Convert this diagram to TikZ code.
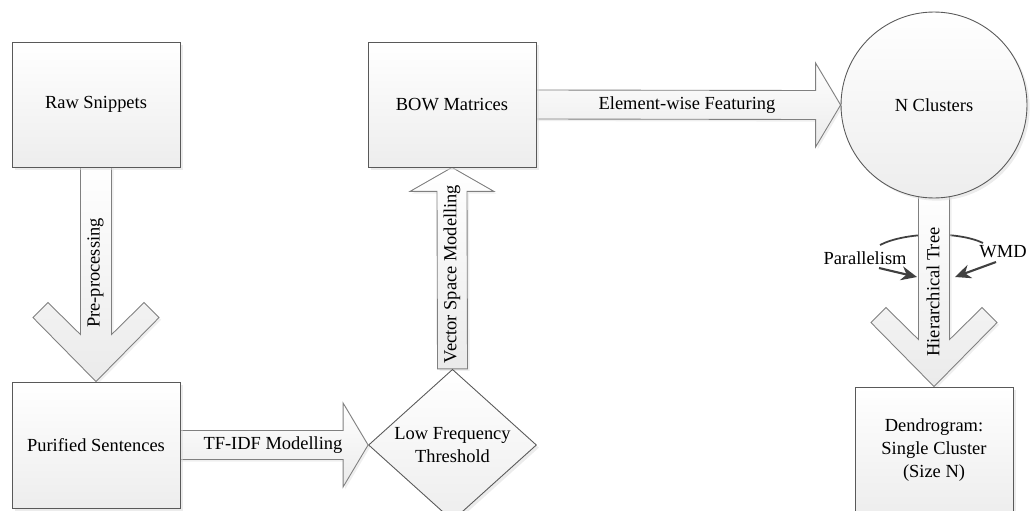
\documentclass[tikz,border=0pt]{standalone}
\usepackage{fontspec}
\setmainfont{Liberation Serif}
\usetikzlibrary{shapes.geometric,shadows,calc,arrows.meta}
\definecolor{edgegray}{RGB}{89,89,89}
\definecolor{arrowgray}{RGB}{128,128,128}
\definecolor{markgray}{RGB}{64,64,64}
\pgfdeclarelayer{bg}
\pgfsetlayers{bg,main}

\begin{document}
\begin{tikzpicture}[x=0.02cm,y=-0.02cm,
    font=\fontsize{10.5}{13}\selectfont,
    block/.style={draw=edgegray, line width=0.5pt, top color=white, bottom color=black!7,
        drop shadow={shadow xshift=1.5pt, shadow yshift=-1.5pt, fill=black!15},
        align=center, inner sep=2pt},
    boxnode/.style={block, rectangle, minimum width=3.36cm, minimum height=2.5cm},
    barrow/.style={draw=arrowgray, line width=0.5pt, top color=white, bottom color=black!8,
        drop shadow={shadow xshift=1.2pt, shadow yshift=-1.2pt, fill=black!12}, line join=miter},
    sidearrow/.style={markgray, line width=1.2pt, -{Stealth[length=9pt,width=8pt]}}]
    \useasboundingbox (0,0) rectangle (1030,510);

    % boxes
    \node[boxnode] (raw) at (96,104.5) {Raw Snippets};
    \node[boxnode] (bow) at (452,104.5) {BOW Matrices};
    \node[boxnode, minimum height=2.52cm] (pure) at (96,445) {Purified Sentences};
    \node[block, diamond, minimum width=3.36cm, minimum height=2.48cm, inner sep=0pt] (low) at (452.5,445) {Low Frequency\\Threshold};
    \node[block, circle, minimum size=3.72cm] (clus) at (934,105) {N Clusters};
    \node[boxnode, minimum width=3.16cm, minimum height=2.52cm] (dend) at (934,450) {Dendrogram:\\Single Cluster\\(Size N)};

    % block arrows
    \begin{pgfonlayer}{bg}
        \draw[barrow] ($(raw.south)+(-15.5,-4)$) -- ($(pure.north)+(-15.5,-47)$) -- ++(-32.5,-32) -- ++(-15,15)
            -- (pure.north) -- ++(63,-64) -- ++(-15,-15) -- ++(-32.5,32) -- ($(raw.south)+(15.5,-4)$) -- cycle;
        \draw[barrow] ($(pure.east)+(-2,-14.5)$) -- ($(low.west)+(-25,-14.5)$) -- ++(0,-27.5)
            -- (low.west) -- ++(-25,42) -- ++(0,-27.5) -- ($(pure.east)+(-2,14.5)$) -- cycle;
        \draw[barrow] ($(low.north)+(-15,0)$) -- ($(bow.south)+(-15,24)$) -- ++(-27,0)
            -- (bow.south) -- ++(42,24) -- ++(-27,0) -- ($(low.north)+(15,0)$) -- cycle;
        \draw[barrow] ($(bow.east)+(-2,-14.5)$) -- ($(clus.west)+(-25,-14.5)$) -- ++(0,-27.5)
            -- (clus.west) -- ++(-25,42) -- ++(0,-27.5) -- ($(bow.east)+(-2,14.5)$) -- cycle;
        % arc behind the tree arrow
        \draw[markgray, line width=1pt] (880,245) .. controls (905,232) and (958,231) .. (983,243);
        \draw[barrow] ($(clus.south)+(-15.5,-8)$) -- ($(dend.north)+(-15.5,-47)$) -- ++(-32.5,-32) -- ++(-15,15)
            -- (dend.north) -- ++(63,-64) -- ++(-15,-15) -- ++(-32.5,32) -- ($(clus.south)+(15.5,-8)$) -- cycle;
    \end{pgfonlayer}

    % arrow labels
    \node[rotate=90] (pp) at (95.5,273) {Pre-processing};
    \node (tf) at (273,445) {TF-IDF Modelling};
    \node[rotate=90] (vs) at (452,274) {Vector Space Modelling};
    \node (ew) at (687,105) {Element-wise Featuring};
    \node[rotate=90] (ht) at (933,292) {Hierarchical Tree};

    % side marks
    \node (par) at (865,258) {Parallelism};
    \node (wmd) at (1003,252) {WMD};
    \coordinate (partail) at (879,268);
    \coordinate (parhead) at (917,277);
    \coordinate (wmdtail) at (996,262);
    \coordinate (wmdhead) at (955,277);
    \draw[sidearrow] (partail) -- (parhead);
    \draw[sidearrow] (wmdtail) -- (wmdhead);
\end{tikzpicture}
\end{document}
